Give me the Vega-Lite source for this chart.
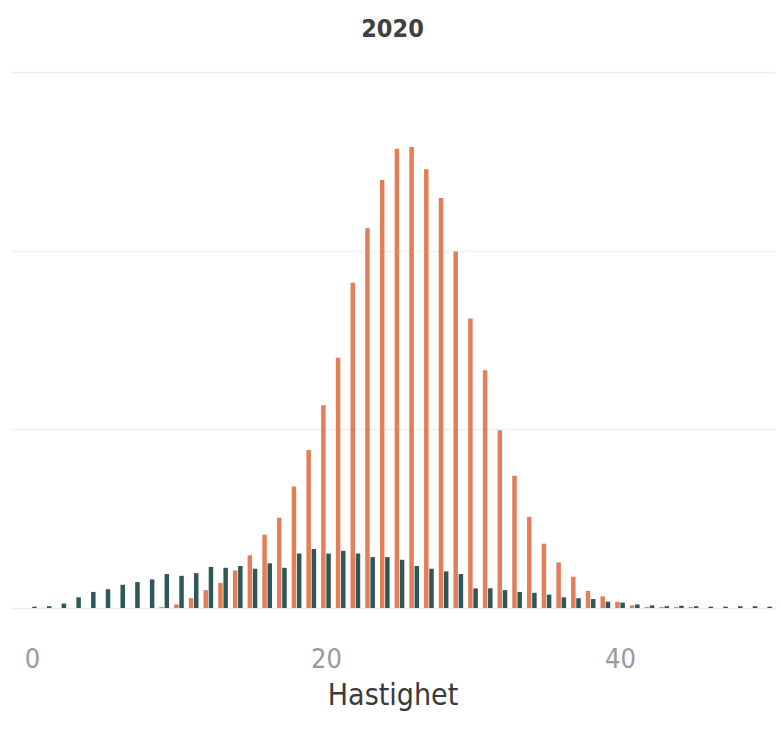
{
  "$schema": "https://vega.github.io/schema/vega-lite/v6.json",
  "autosize": "none",
  "width": 765,
  "height": 536,
  "padding": {"left": 10, "top": 72, "right": 6, "bottom": 126},
  "background": "white",
  "title": {"text": "2020", "anchor": "middle", "fontSize": 25, "font": "DejaVu Sans Condensed", "fontWeight": "bold", "color": "#404040", "offset": 30},
  "config": {"view": {"stroke": null}},
  "data": {"values": [
    {"v": 0, "orange": 0, "dark": 0.015},
    {"v": 1, "orange": 0, "dark": 0.02},
    {"v": 2, "orange": 0, "dark": 0.05},
    {"v": 3, "orange": 0, "dark": 0.12},
    {"v": 4, "orange": 0, "dark": 0.18},
    {"v": 5, "orange": 0, "dark": 0.21},
    {"v": 6, "orange": 0, "dark": 0.26},
    {"v": 7, "orange": 0, "dark": 0.29},
    {"v": 8, "orange": 0, "dark": 0.32},
    {"v": 9, "orange": 0.01, "dark": 0.38},
    {"v": 10, "orange": 0.04, "dark": 0.36},
    {"v": 11, "orange": 0.11, "dark": 0.39},
    {"v": 12, "orange": 0.2, "dark": 0.46},
    {"v": 13, "orange": 0.28, "dark": 0.45},
    {"v": 14, "orange": 0.42, "dark": 0.47},
    {"v": 15, "orange": 0.59, "dark": 0.44},
    {"v": 16, "orange": 0.82, "dark": 0.5},
    {"v": 17, "orange": 1.01, "dark": 0.45},
    {"v": 18, "orange": 1.36, "dark": 0.61},
    {"v": 19, "orange": 1.77, "dark": 0.66},
    {"v": 20, "orange": 2.27, "dark": 0.61},
    {"v": 21, "orange": 2.8, "dark": 0.64},
    {"v": 22, "orange": 3.64, "dark": 0.61},
    {"v": 23, "orange": 4.25, "dark": 0.57},
    {"v": 24, "orange": 4.79, "dark": 0.57},
    {"v": 25, "orange": 5.14, "dark": 0.54},
    {"v": 26, "orange": 5.16, "dark": 0.47},
    {"v": 27, "orange": 4.91, "dark": 0.44},
    {"v": 28, "orange": 4.59, "dark": 0.41},
    {"v": 29, "orange": 3.99, "dark": 0.38},
    {"v": 30, "orange": 3.24, "dark": 0.22},
    {"v": 31, "orange": 2.66, "dark": 0.22},
    {"v": 32, "orange": 1.99, "dark": 0.2},
    {"v": 33, "orange": 1.48, "dark": 0.18},
    {"v": 34, "orange": 1.02, "dark": 0.17},
    {"v": 35, "orange": 0.72, "dark": 0.15},
    {"v": 36, "orange": 0.51, "dark": 0.12},
    {"v": 37, "orange": 0.35, "dark": 0.11},
    {"v": 38, "orange": 0.19, "dark": 0.1},
    {"v": 39, "orange": 0.13, "dark": 0.07},
    {"v": 40, "orange": 0.07, "dark": 0.06},
    {"v": 41, "orange": 0.03, "dark": 0.04},
    {"v": 42, "orange": 0.01, "dark": 0.03},
    {"v": 43, "orange": 0.01, "dark": 0.02},
    {"v": 44, "orange": 0.01, "dark": 0.025},
    {"v": 45, "orange": 0.01, "dark": 0.02},
    {"v": 46, "orange": 0, "dark": 0.015},
    {"v": 47, "orange": 0, "dark": 0.015},
    {"v": 48, "orange": 0, "dark": 0.02},
    {"v": 49, "orange": 0, "dark": 0.02},
    {"v": 50, "orange": 0, "dark": 0.015}
  ]},
  "encoding": {
    "x": {"field": "v", "type": "quantitative",
      "scale": {"domain": [-1.15, 50.2], "nice": false, "zero": false},
      "axis": {"values": [0, 20, 40], "title": "Hastighet", "grid": false, "domain": false, "ticks": false,
        "labelFontSize": 27, "labelColor": "#9a9a9a", "labelFont": "DejaVu Sans Condensed", "labelPadding": 38,
        "titleFontSize": 30, "titleColor": "#3a3a3a", "titleFont": "DejaVu Sans Condensed", "titleFontWeight": "normal", "titlePadding": 8}}
  },
  "layer": [
    {
      "mark": {"type": "bar", "width": 4.5, "xOffset": -2.6, "color": "#E27E58"},
      "encoding": {
        "y": {"field": "orange", "type": "quantitative",
          "scale": {"domain": [0, 6], "nice": false},
          "axis": {"values": [0, 2, 4, 6], "title": null, "labels": false, "ticks": false, "domain": false,
            "grid": true, "gridColor": "#f0f0f0", "gridWidth": 1.5}}
      }
    },
    {
      "mark": {"type": "bar", "width": 4.5, "xOffset": 2.6, "color": "#2E5759"},
      "encoding": {
        "y": {"field": "dark", "type": "quantitative"}
      }
    }
  ]
}
